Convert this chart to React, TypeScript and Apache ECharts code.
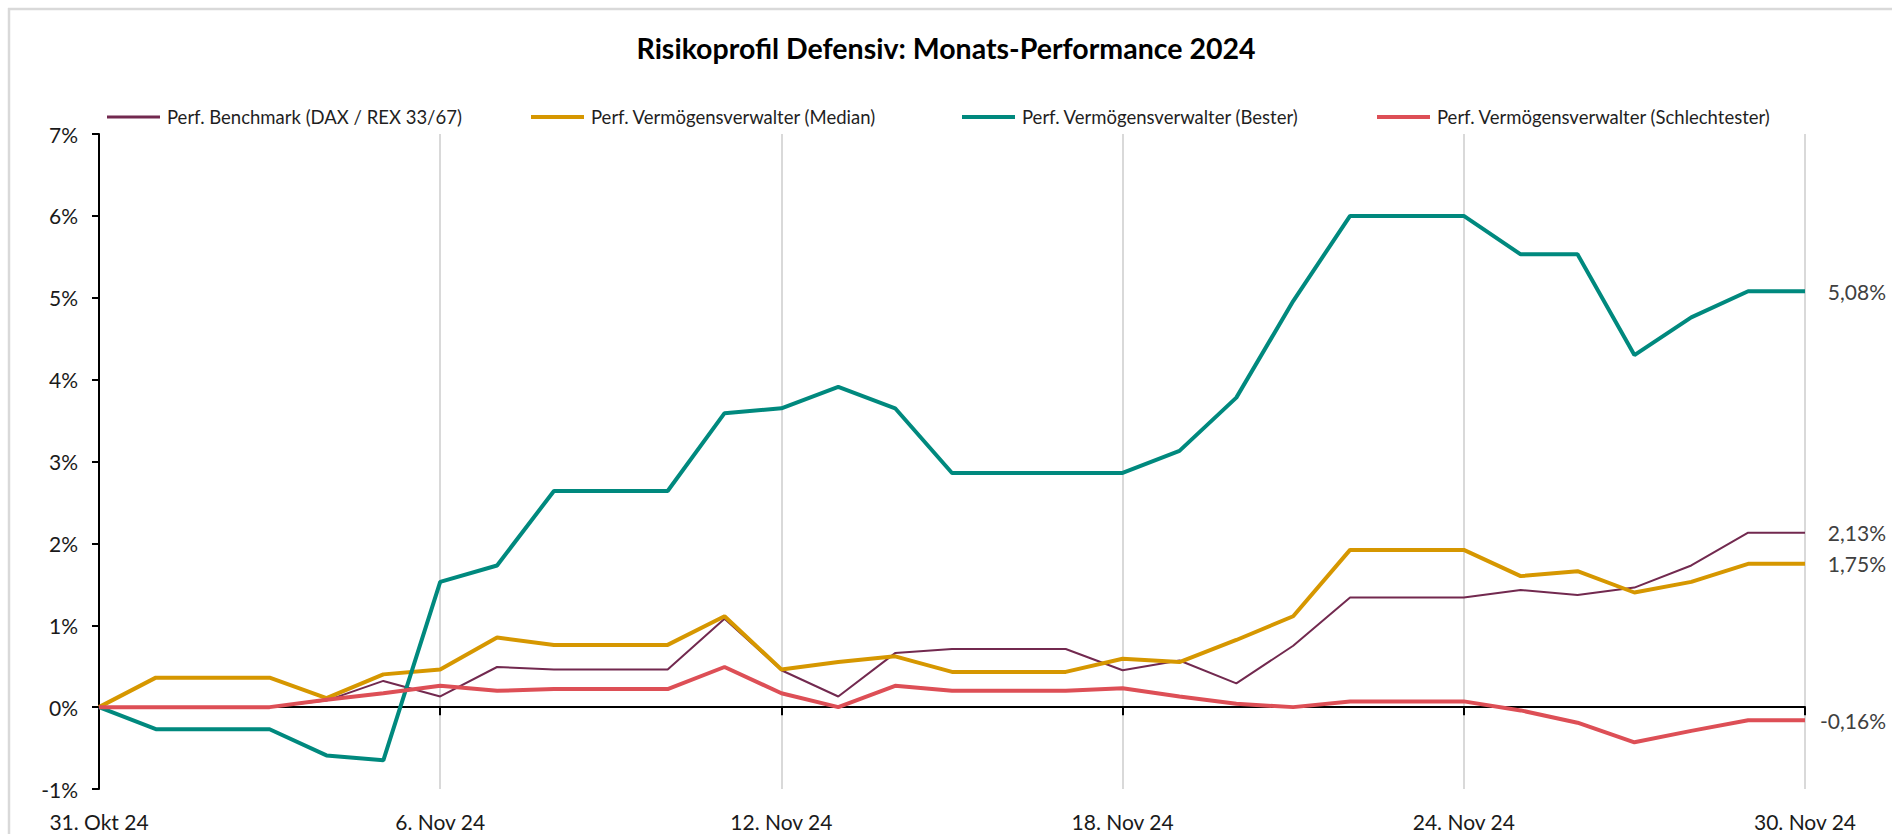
import React, { useEffect, useRef } from 'react';
import * as echarts from 'echarts';

const titleText = 'Risikoprofil Defensiv: Monats-Performance 2024';

const dates = [
  '31. Okt 24', '1. Nov 24', '2. Nov 24', '3. Nov 24', '4. Nov 24', '5. Nov 24',
  '6. Nov 24', '7. Nov 24', '8. Nov 24', '9. Nov 24', '10. Nov 24', '11. Nov 24',
  '12. Nov 24', '13. Nov 24', '14. Nov 24', '15. Nov 24', '16. Nov 24', '17. Nov 24',
  '18. Nov 24', '19. Nov 24', '20. Nov 24', '21. Nov 24', '22. Nov 24', '23. Nov 24',
  '24. Nov 24', '25. Nov 24', '26. Nov 24', '27. Nov 24', '28. Nov 24', '29. Nov 24',
  '30. Nov 24',
];

const seriesNames = [
  'Perf. Benchmark (DAX / REX 33/67)',
  'Perf. Vermögensverwalter (Median)',
  'Perf. Vermögensverwalter (Bester)',
  'Perf. Vermögensverwalter (Schlechtester)',
];

const benchmark = [
  0, 0, 0, 0, 0.08, 0.32, 0.13, 0.49, 0.46, 0.46, 0.46, 1.08, 0.45, 0.13, 0.66, 0.71,
  0.71, 0.71, 0.45, 0.57, 0.29, 0.75, 1.34, 1.34, 1.34, 1.43, 1.37, 1.46, 1.73, 2.13, 2.13,
];

const median = [
  0, 0.36, 0.36, 0.36, 0.11, 0.40, 0.46, 0.85, 0.76, 0.76, 0.76, 1.11, 0.46, 0.55, 0.62, 0.43,
  0.43, 0.43, 0.59, 0.55, 0.82, 1.11, 1.92, 1.92, 1.92, 1.60, 1.66, 1.40, 1.53, 1.75, 1.75,
];

const bester = [
  0, -0.27, -0.27, -0.27, -0.59, -0.65, 1.53, 1.73, 2.64, 2.64, 2.64, 3.59, 3.65, 3.91, 3.65, 2.86,
  2.86, 2.86, 2.86, 3.13, 3.78, 4.96, 6.0, 6.0, 6.0, 5.53, 5.53, 4.30, 4.76, 5.08, 5.08,
];

const schlechtester = [
  0, 0, 0, 0, 0.09, 0.17, 0.26, 0.20, 0.22, 0.22, 0.22, 0.49, 0.17, 0.0, 0.26, 0.20,
  0.20, 0.20, 0.23, 0.13, 0.04, 0.0, 0.07, 0.07, 0.07, -0.04, -0.19, -0.43, -0.29, -0.16, -0.16,
];

const seriesData = [benchmark, median, bester, schlechtester];
const colors = ['#72294f', '#d69700', '#00897e', '#dd4f56'];
const widths = [2, 4, 4, 4];
const legendLefts = [107, 531, 962, 1377];

const FONT = "Lato, 'Open Sans', sans-serif";

export default function App() {
  const ref = useRef<HTMLDivElement>(null);

  useEffect(() => {
    const chart = echarts.init(ref.current!, null, { renderer: 'svg' });
    const fmt = (v: number) => v.toFixed(2).replace('.', ',') + '%';
    chart.setOption({
      animation: false,
      backgroundColor: '#ffffff',
      textStyle: { fontFamily: FONT },
      title: {
        text: titleText,
        left: 'center',
        top: 33,
        padding: 0,
        textStyle: { fontFamily: FONT, fontWeight: 'bold', fontSize: 28.5, color: '#000000', lineHeight: 30 },
      },
      legend: seriesNames.map((name, i) => ({
        data: [name],
        left: legendLefts[i],
        top: 107,
        padding: 0,
        itemWidth: 53,
        itemHeight: widths[i] === 2 ? 3 : 4,
        itemGap: 0,
        icon: 'rect',
        selectedMode: false,
        textStyle: { fontFamily: FONT, fontSize: 18.5, color: '#1f1f1f', lineHeight: 20, padding: [0, 0, 0, 2] },
      })),
      graphic: [
        { type: 'line', shape: { x1: 8, y1: 9, x2: 1892, y2: 9 }, style: { stroke: '#d9d9d9', lineWidth: 2.5 }, silent: true },
        { type: 'line', shape: { x1: 9, y1: 8, x2: 9, y2: 834 }, style: { stroke: '#d9d9d9', lineWidth: 2.5 }, silent: true },
      ],
      grid: { left: 99, right: 87, top: 134, bottom: 45, containLabel: false },
      xAxis: [
        {
          type: 'category',
          data: dates,
          boundaryGap: false,
          position: 'bottom',
          axisLine: { show: true, onZero: true, lineStyle: { color: '#000000', width: 2 } },
          axisTick: { show: true, interval: 5, length: 8, lineStyle: { color: '#000000', width: 2 } },
          axisLabel: { show: false },
          splitLine: { show: true, interval: 5, lineStyle: { color: '#d9d9d9', width: 2 } },
        },
        {
          type: 'category',
          data: dates,
          boundaryGap: false,
          position: 'bottom',
          axisLine: { show: false, onZero: false },
          axisTick: { show: false },
          splitLine: { show: false },
          axisLabel: { show: true, interval: 5, margin: 22, fontFamily: FONT, fontSize: 21, color: '#1a1a1a' },
        },
      ],
      yAxis: {
        type: 'value',
        min: -1,
        max: 7,
        interval: 1,
        axisLine: { show: true, lineStyle: { color: '#000000', width: 2 } },
        axisTick: { show: true, length: 7, lineStyle: { color: '#000000', width: 2 } },
        splitLine: { show: false },
        axisLabel: { formatter: '{value}%', margin: 21, fontFamily: FONT, fontSize: 21, color: '#1a1a1a' },
      },
      series: seriesNames.map((name, i) => ({
        name,
        type: 'line',
        xAxisIndex: 0,
        data: seriesData[i],
        symbol: 'none',
        showSymbol: false,
        color: colors[i],
        lineStyle: { color: colors[i], width: widths[i] },
        endLabel: {
          show: true,
          align: 'right',
          distance: 81,
          formatter: (p: any) => fmt(p.value),
          fontFamily: FONT,
          fontSize: 21,
          color: '#404040',
        },
        z: 2 + i,
      })),
    });
    return () => chart.dispose();
  }, []);

  return (
    <div
      ref={ref}
      style={{ position: 'fixed', left: 0, top: 0, width: 1892, height: 834, background: '#ffffff' }}
    />
  );
}
